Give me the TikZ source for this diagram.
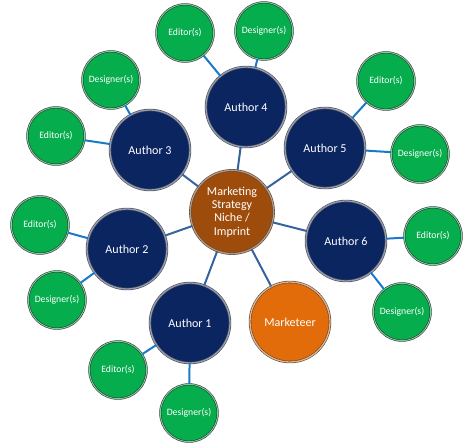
\documentclass[tikz,border=0pt]{standalone}
\usepackage{fontspec}
\setmainfont{Carlito}
\usepackage{xcolor}
\definecolor{navy}{HTML}{0B2561}
\definecolor{rust}{HTML}{9E4C0C}
\definecolor{tangerine}{HTML}{E36C0A}
\definecolor{leaf}{HTML}{06AD4C}
\definecolor{steel}{HTML}{36639E}
\definecolor{sky}{HTML}{1A78C8}

\begin{document}
\begin{tikzpicture}[x=0.03cm, y=-0.03cm,
			every node/.style={text=white, align=center},
			hub/.style={circle, draw=black!70, line width=0.5pt, double=rust!60!white, double distance=1.1pt, fill=rust, minimum size=2.5cm, inner sep=0pt, font=\fontsize{10.3}{11.5}\selectfont},
			author/.style={circle, draw=black!70, line width=0.5pt, double=navy!45!white, double distance=1.1pt, fill=navy, minimum size=2.4cm, inner sep=0pt, font=\fontsize{10.3}{12}\selectfont},
			mkt/.style={author, double=tangerine!55!white, fill=tangerine},
			helper/.style={circle, draw=black!80, line width=0.5pt, double=leaf!55!white, double distance=0.8pt, fill=leaf, minimum size=1.72cm, inner sep=0pt, font=\fontsize{8.3}{10}\selectfont},
			link/.style={draw=steel, line width=1.7pt},
			sublink/.style={draw=sky, line width=1.7pt}
		]
		\useasboundingbox (0,0) rectangle (464,447);

		\node[hub] (hub) at (232,212) {Marketing\\Strategy\\Niche /\\Imprint};

		\node[author] (a1) at (190,323) {Author 1};
		\node[author] (a2) at (127,249) {Author 2};
		\node[author] (a3) at (150,150) {Author 3};
		\node[author] (a4) at (246,107) {Author 4};
		\node[author] (a5) at (325,148) {Author 5};
		\node[author] (a6) at (346,241) {Author 6};
		\node[mkt] (mkt) at (290,322) {Marketeer};

		\node[helper] (ed1) at (118,370) {Editor(s)};
		\node[helper] (ds1) at (189,413) {Designer(s)};
		\node[helper] (ed2) at (40,225) {Editor(s)};
		\node[helper] (ds2) at (57,300) {Designer(s)};
		\node[helper] (ed3) at (56,136) {Editor(s)};
		\node[helper] (ds3) at (111,80) {Designer(s)};
		\node[helper] (ed4) at (185,33) {Editor(s)};
		\node[helper] (ds4) at (264,31) {Designer(s)};
		\node[helper] (ed5) at (386,81) {Editor(s)};
		\node[helper] (ds5) at (420,154) {Designer(s)};
		\node[helper] (ed6) at (433,236) {Editor(s)};
		\node[helper] (ds6) at (402,312) {Designer(s)};

		\draw[link] (hub) -- (a1);
		\draw[link] (hub) -- (a2);
		\draw[link] (hub) -- (a3);
		\draw[link] (hub) -- (a4);
		\draw[link] (hub) -- (a5);
		\draw[link] (hub) -- (a6);
		\draw[link] (hub) -- (mkt);

		\draw[sublink] (a1) -- (ed1);
		\draw[sublink] (a1) -- (ds1);
		\draw[sublink] (a2) -- (ed2);
		\draw[sublink] (a2) -- (ds2);
		\draw[sublink] (a3) -- (ed3);
		\draw[sublink] (a3) -- (ds3);
		\draw[sublink] (a4) -- (ed4);
		\draw[sublink] (a4) -- (ds4);
		\draw[sublink] (a5) -- (ed5);
		\draw[sublink] (a5) -- (ds5);
		\draw[sublink] (a6) -- (ed6);
		\draw[sublink] (a6) -- (ds6);
	\end{tikzpicture}
\end{document}
